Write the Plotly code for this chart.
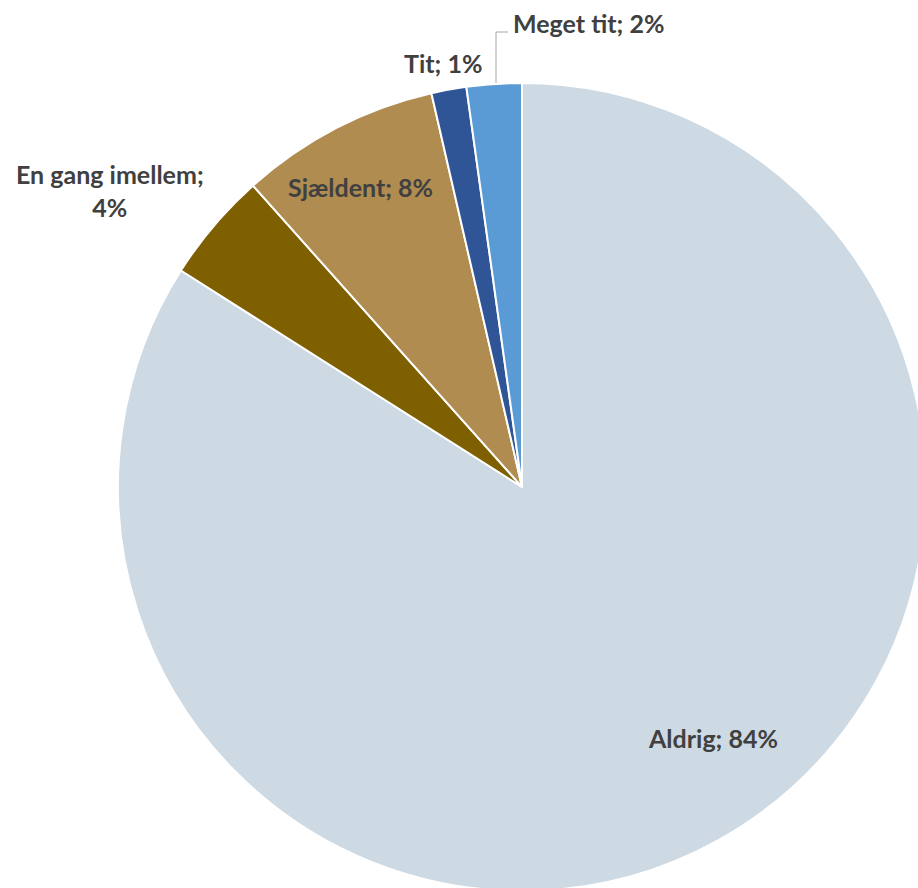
import plotly.graph_objects as go

W, H = 940, 900

categories = ["Aldrig", "En gang imellem", "Sjældent", "Tit", "Meget tit"]
values = [84.0, 4.4, 8.0, 1.4, 2.2]
colors = ["#CDD9E3", "#7F6000", "#B08C50", "#2F5597", "#5B9BD5"]

# label positions in pixels (center of text) -- layout only
label_pos = {
    "Aldrig": (713, 738),
    "En gang imellem": (110, 190),
    "Sjældent": (360, 187),
    "Tit": (443, 63),
    "Meget tit": (588, 23),
}

cx, cy, r = 522, 487, 404

fig = go.Figure(go.Pie(
    labels=categories,
    values=values,
    sort=False,
    direction="clockwise",
    rotation=0,
    marker=dict(colors=colors, line=dict(color="white", width=2)),
    textinfo="none",
    hoverinfo="label+percent",
    domain=dict(x=[(cx - r) / W, (cx + r) / W],
                y=[1 - (cy + r) / H, 1 - (cy - r) / H]),
    showlegend=False,
))

total = sum(values)
annotations = []
for cat, v in zip(categories, values):
    pct = round(v / total * 100)
    if cat == "En gang imellem":
        txt = f"{cat};<br>{pct}%"
    else:
        txt = f"{cat}; {pct}%"
    px, py = label_pos[cat]
    annotations.append(dict(
        x=px / W, y=1 - py / H, xref="paper", yref="paper",
        text=f"<b>{txt}</b>", showarrow=False,
        font=dict(family="Lato, Open Sans, sans-serif", size=25, color="#404040"),
        xanchor="center", yanchor="middle", align="center",
    ))

def P(x, y):
    return f"{x / W} {1 - y / H}"

fig.update_layout(
    width=W, height=H,
    margin=dict(l=0, r=0, t=0, b=0),
    paper_bgcolor="white",
    annotations=annotations,
    shapes=[dict(
        type="path", xref="paper", yref="paper",
        path=f"M {P(496, 83)} L {P(496, 32)} L {P(508, 32)}",
        line=dict(color="#A6A6A6", width=1),
    )],
)

fig.write_html(
    "out.html",
    config={"displayModeBar": False},
    post_script="document.body.style.margin='0';document.body.style.overflow='hidden';",
)
